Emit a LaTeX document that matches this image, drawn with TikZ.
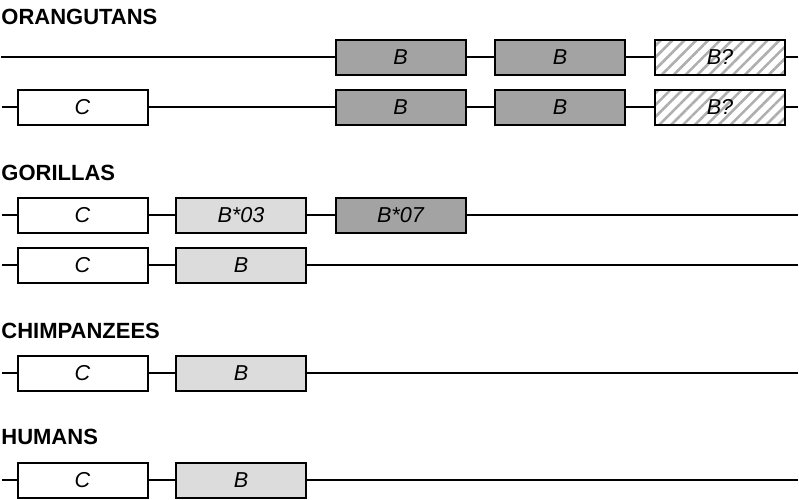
\documentclass[tikz,border=0pt]{standalone}
\usepackage{fontspec}
\setmainfont{Liberation Sans}
\usetikzlibrary{positioning, patterns.meta}
\definecolor{gendonker}{RGB}{163,163,163}
\definecolor{genlicht}{RGB}{220,220,220}
\definecolor{genarsir}{RGB}{175,175,175}

\begin{document}
\begin{tikzpicture}[x=0.5pt, y=-0.5pt,
      gen/.style={draw, line width=1pt, minimum width=65pt, minimum height=17.5pt, inner sep=0pt, font=\fontsize{10.8pt}{12pt}\selectfont\itshape},
      genc/.style={gen, fill=white},
      genb/.style={gen, fill=genlicht},
      genbd/.style={gen, fill=gendonker},
      genbq/.style={gen, pattern={Lines[angle=45, distance=4.2pt, line width=1.3pt]}, pattern color=genarsir},
      judul/.style={anchor=west, inner sep=0pt, font=\fontsize{11pt}{13pt}\selectfont\bfseries},
      garis/.style={line width=1pt}
    ]
    \useasboundingbox (0,0) rectangle (799,499);

    % ─── Titles ──────────────────────────────────────────────────
    \node[judul] (torang)  at (1, 17)  {ORANGUTANS};
    \node[judul] (tgor)    at (1, 173) {GORILLAS};
    \node[judul] (tchimp)  at (1, 331) {CHIMPANZEES};
    \node[judul] (thuman)  at (1, 437) {HUMANS};

    % ─── Orangutans, haplotype 1 ─────────────────────────────────
    \coordinate (o1l) at (1, 57);
    \coordinate (o1r) at (798, 57);
    \node[genbd] (o1b1) at (400.5, 57) {B};
    \node[genbd] (o1b2) at (560, 57)   {B};
    \node[genbq] (o1b3) at (720, 57)   {B?};

    % ─── Orangutans, haplotype 2 ─────────────────────────────────
    \coordinate (o2l) at (2, 107);
    \coordinate (o2r) at (798, 107);
    \node[genc]  (o2c)  at (82.5, 107)  {C};
    \node[genbd] (o2b1) at (400.5, 107) {B};
    \node[genbd] (o2b2) at (560, 107)   {B};
    \node[genbq] (o2b3) at (720, 107)   {B?};

    % ─── Gorillas ────────────────────────────────────────────────
    \coordinate (g1l) at (2, 215);
    \coordinate (g1r) at (798, 215);
    \node[genc]  (g1c)  at (82.5, 215)  {C};
    \node[genb]  (g1b1) at (241, 215)   {B*03};
    \node[genbd] (g1b2) at (400.5, 215) {B*07};

    \coordinate (g2l) at (2, 265);
    \coordinate (g2r) at (798, 265);
    \node[genc] (g2c) at (82.5, 265) {C};
    \node[genb] (g2b) at (241, 265)  {B};

    % ─── Chimpanzees ─────────────────────────────────────────────
    \coordinate (c1l) at (2, 373);
    \coordinate (c1r) at (798, 373);
    \node[genc] (c1c) at (82.5, 373) {C};
    \node[genb] (c1b) at (241, 373)  {B};

    % ─── Humans ──────────────────────────────────────────────────
    \coordinate (h1l) at (2, 480);
    \coordinate (h1r) at (798, 480);
    \node[genc] (h1c) at (82.5, 480) {C};
    \node[genb] (h1b) at (241, 480)  {B};

    % ─── Lines ───────────────────────────────────────────────────
    \draw[garis] (o1l) -- (o1b1.west);
    \draw[garis] (o1b1) -- (o1b2);
    \draw[garis] (o1b2) -- (o1b3);
    \draw[garis] (o1b3.east) -- (o1r);

    \draw[garis] (o2l) -- (o2c.west);
    \draw[garis] (o2c) -- (o2b1);
    \draw[garis] (o2b1) -- (o2b2);
    \draw[garis] (o2b2) -- (o2b3);
    \draw[garis] (o2b3.east) -- (o2r);

    \draw[garis] (g1l) -- (g1c.west);
    \draw[garis] (g1c) -- (g1b1);
    \draw[garis] (g1b1) -- (g1b2);
    \draw[garis] (g1b2.east) -- (g1r);

    \draw[garis] (g2l) -- (g2c.west);
    \draw[garis] (g2c) -- (g2b);
    \draw[garis] (g2b.east) -- (g2r);

    \draw[garis] (c1l) -- (c1c.west);
    \draw[garis] (c1c) -- (c1b);
    \draw[garis] (c1b.east) -- (c1r);

    \draw[garis] (h1l) -- (h1c.west);
    \draw[garis] (h1c) -- (h1b);
    \draw[garis] (h1b.east) -- (h1r);

\end{tikzpicture}
\end{document}
